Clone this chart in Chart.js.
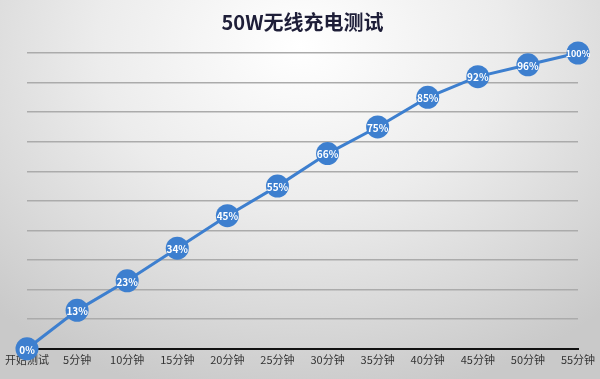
<!DOCTYPE html>
<html>
<head>
<meta charset="utf-8">
<script src="https://cdn.jsdelivr.net/npm/chart.js@4"></script>
<style>
  html, body { margin: 0; padding: 0; }
  body {
    width: 600px; height: 379px; overflow: hidden;
    background: radial-gradient(ellipse 75% 95% at 50% 12%, #ffffff 0%, #ececec 45%, #d6d6d6 80%, #c9c9c9 100%);
  }
  #wrap { position: relative; width: 600px; height: 379px; }
</style>
</head>
<body>
<div id="wrap"><canvas id="c"></canvas></div>
<script>
// ── 50W wireless charging test ────────────────────────────────────────
const labels = ['开始测试', '5分钟', '10分钟', '15分钟', '20分钟', '25分钟', '30分钟', '35分钟', '40分钟', '45分钟', '50分钟', '55分钟'];
const charge = [0, 13, 23, 34, 45, 55, 66, 75, 85, 92, 96, 100];

const BLUE = '#3d7fcf';
const FONT = "'Noto Sans CJK SC', 'Noto Sans', sans-serif";

// white % text inside each marker
const pointLabels = {
  id: 'pointLabels',
  afterDatasetsDraw(chart) {
    const { ctx } = chart;
    const meta = chart.getDatasetMeta(0);
    ctx.save();
    ctx.fillStyle = '#ffffff';
    ctx.textAlign = 'center';
    ctx.textBaseline = 'middle';
    meta.data.forEach((pt, i) => {
      const txt = charge[i] + '%';
      ctx.font = `bold ${txt.length > 3 ? 9 : 10}px ${FONT}`;
      ctx.fillText(txt, pt.x, pt.y + 1);
    });
    ctx.restore();
  }
};

new Chart(document.getElementById('c'), {
  type: 'line',
  data: {
    labels,
    datasets: [{
      data: charge,
      borderColor: BLUE, backgroundColor: BLUE,
      borderWidth: 3, pointRadius: 11.5, pointHoverRadius: 11.5,
      pointBorderWidth: 0, tension: 0, clip: false
    }]
  },
  options: {
    responsive: true, maintainAspectRatio: false, animation: false,
    layout: { padding: { left: 27, right: 22, top: 0, bottom: 9 } },
    plugins: {
      legend: { display: false },
      tooltip: { enabled: false },
      title: {
        display: true, text: '50W无线充电测试', color: '#1e1e38',
        font: { family: FONT, size: 20, weight: 'bold' },
        padding: { top: 10, bottom: 19 }
      }
    },
    scales: {
      x: {
        offset: false,
        grid: { display: false, drawTicks: false, tickLength: 0 },
        border: { color: '#111111', width: 2 },
        ticks: { color: '#333333', font: { family: FONT, size: 11 }, padding: 4, maxRotation: 0, autoSkip: false }
      },
      y: {
        min: 0, max: 100,
        ticks: { display: false, stepSize: 10 },
        border: { display: false },
        grid: { color: '#ababab', lineWidth: 1.5, drawTicks: false }
      }
    }
  },
  plugins: [pointLabels]
});
</script>
</body>
</html>
